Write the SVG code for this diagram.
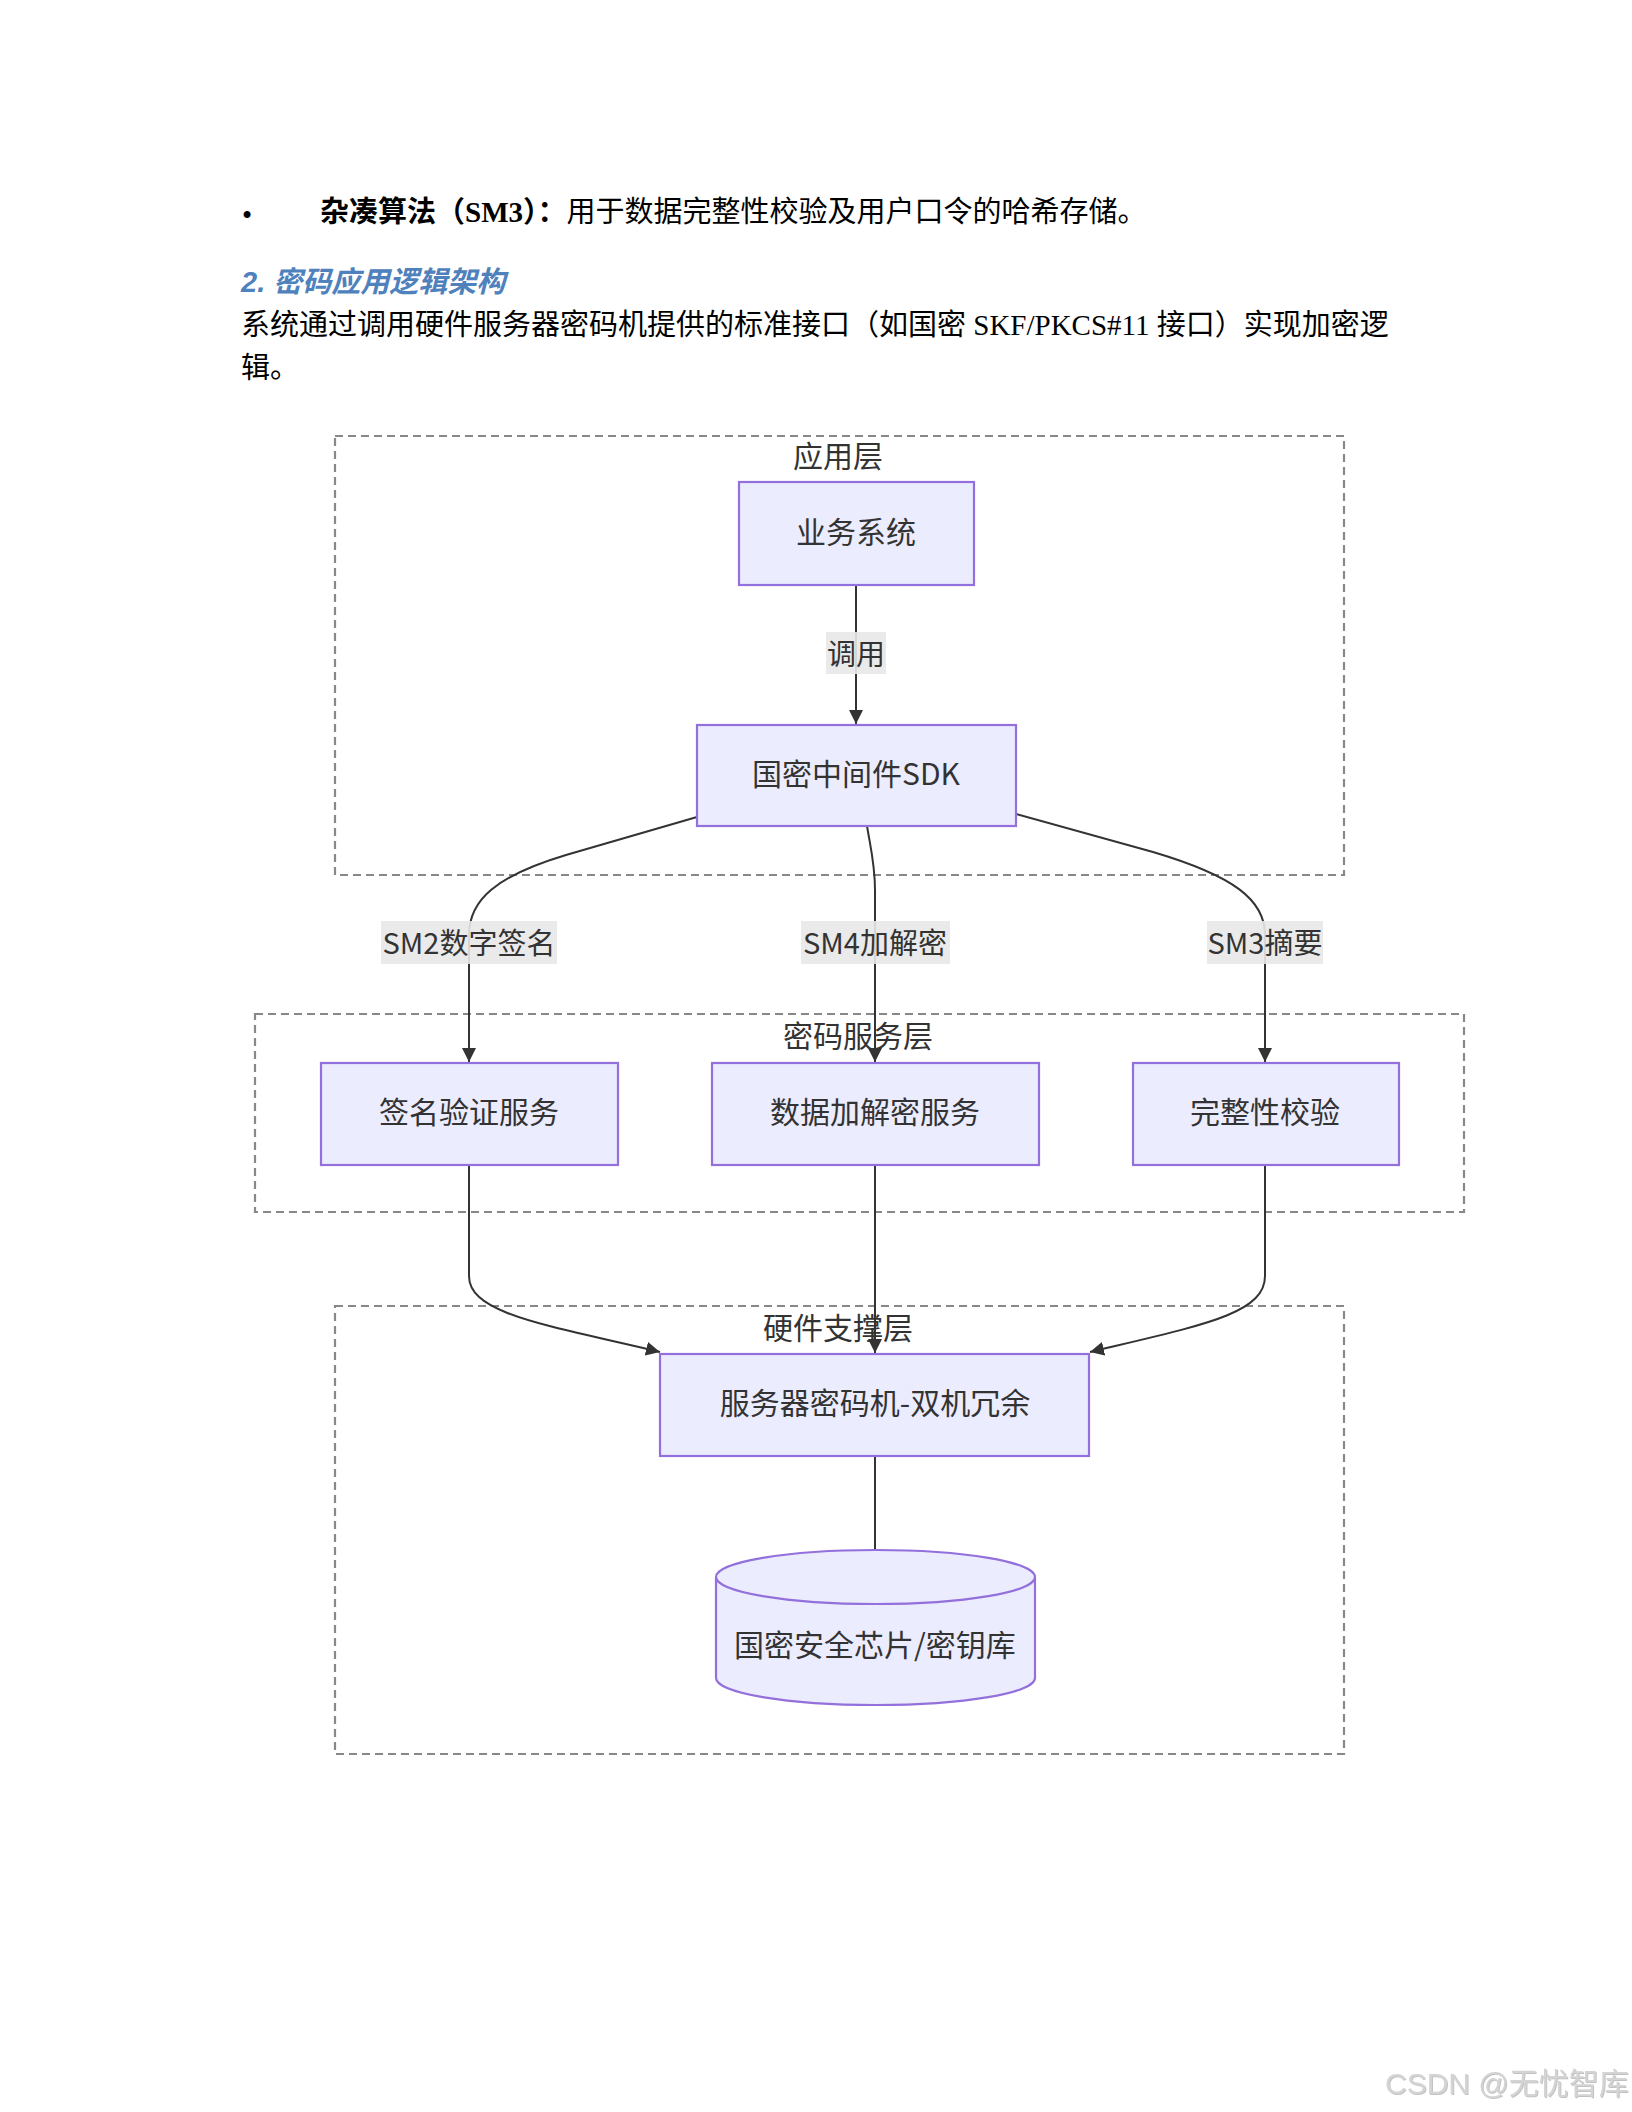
<svg xmlns="http://www.w3.org/2000/svg" width="1632" height="2112" viewBox="0 0 1632 2112">
<style>
.para{font-family:"Liberation Serif","Noto Sans CJK SC",serif;font-size:29px;fill:#000}
.head{font-family:"Liberation Sans","Noto Sans CJK SC",sans-serif;font-size:29px;font-weight:bold;font-style:italic;fill:#4F81BD}
.cluster{fill:none;stroke:#888;stroke-width:2.2;stroke-dasharray:8 5}
.clabel{font-family:"Noto Sans CJK SC","Liberation Sans",sans-serif;font-size:30px;fill:#333;text-anchor:middle;dominant-baseline:central}
.node rect,.node path{fill:#ECECFF;stroke:#9370DB;stroke-width:2.2}
.node text{font-family:"Noto Sans CJK SC","Liberation Sans",sans-serif;font-size:30px;fill:#333;text-anchor:middle;dominant-baseline:central}
.edge{fill:none;stroke:#333;stroke-width:2}
.elbg{fill:#e8e8e8;opacity:0.9}
.eltext{font-family:"Noto Sans CJK SC","Liberation Sans",sans-serif;font-size:29px;fill:#333;text-anchor:middle;dominant-baseline:central}
.wm{font-family:"Liberation Sans","Noto Sans CJK SC",sans-serif;font-size:30px;fill:#d4d4d4}
</style>
<defs>
<marker id="arrow" markerUnits="userSpaceOnUse" markerWidth="14" markerHeight="14" refX="14" refY="7" orient="auto">
<path d="M0,0 L14,7 L0,14 z" fill="#333"/>
</marker>
<filter id="emboss" x="-5%" y="-20%" width="110%" height="140%">
<feDropShadow dx="1" dy="1" stdDeviation="0.6" flood-color="#9a9a9a" flood-opacity="0.6"/>
</filter>
</defs>
<rect width="1632" height="2112" fill="#fff"/>
<g id="paragraph">
<text class="para" x="242" y="225" font-size="46">•</text>
<text class="para" x="320" y="222"><tspan font-weight="bold">杂凑算法（SM3）：</tspan>用于数据完整性校验及用户口令的哈希存储。</text>
<text class="head" x="241" y="292">2. 密码应用逻辑架构</text>
<text class="para" x="241" y="335">系统通过调用硬件服务器密码机提供的标准接口（如国密 SKF/PKCS#11 接口）实现加密逻</text>
<text class="para" x="241" y="378">辑。</text>
</g>
<g id="clusters">
<g id="cluster-app"><rect class="cluster" x="335" y="436" width="1009" height="439"/><text class="clabel" x="838" y="454">应用层</text></g>
<g id="cluster-svc"><rect class="cluster" x="255" y="1014" width="1209" height="198"/><text class="clabel" x="858" y="1034">密码服务层</text></g>
<g id="cluster-hw"><rect class="cluster" x="335" y="1306" width="1009" height="448"/><text class="clabel" x="838" y="1326">硬件支撑层</text></g>
</g>
<g id="connectors">
<path class="edge" d="M856,585 L856,724" marker-end="url(#arrow)"/>
<path class="edge" d="M697,817 L566,855 C496,876 469,900 469,935 L469,1062" marker-end="url(#arrow)"/>
<path class="edge" d="M867,826 C871,850 875,865 875,890 L875,1062" marker-end="url(#arrow)"/>
<path class="edge" d="M1016,814 L1153,852 C1234,876 1265,900 1265,935 L1265,1062" marker-end="url(#arrow)"/>
<path class="edge" d="M469,1165 L469,1276 C469,1314 546,1325 660,1352" marker-end="url(#arrow)"/>
<path class="edge" d="M875,1165 L875,1353" marker-end="url(#arrow)"/>
<path class="edge" d="M1265,1165 L1265,1276 C1265,1314 1203,1325 1090,1352" marker-end="url(#arrow)"/>
<path class="edge" d="M875,1456 L875,1550"/>
<g id="edge-labels">
<rect class="elbg" x="826" y="632" width="60" height="42"/><text class="eltext" x="856" y="652">调用</text>
<rect class="elbg" x="381" y="921" width="176" height="43"/><text class="eltext" x="469" y="941">SM2数字签名</text>
<rect class="elbg" x="801" y="921" width="149" height="43"/><text class="eltext" x="875" y="941">SM4加解密</text>
<rect class="elbg" x="1207" y="921" width="116" height="43"/><text class="eltext" x="1265" y="941">SM3摘要</text>
</g>
</g>
<g id="node-biz" class="node"><rect x="739" y="482" width="235" height="103"/><text x="856" y="530">业务系统</text></g>
<g id="node-sdk" class="node"><rect x="697" y="725" width="319" height="101"/><text x="856" y="772">国密中间件SDK</text></g>
<g id="node-sign" class="node"><rect x="321" y="1063" width="297" height="102"/><text x="469" y="1110">签名验证服务</text></g>
<g id="node-enc" class="node"><rect x="712" y="1063" width="327" height="102"/><text x="875" y="1110">数据加解密服务</text></g>
<g id="node-hash" class="node"><rect x="1133" y="1063" width="266" height="102"/><text x="1265" y="1110">完整性校验</text></g>
<g id="node-hsm" class="node"><rect x="660" y="1354" width="429" height="102"/><text x="875" y="1401">服务器密码机-双机冗余</text></g>
<g id="node-chip" class="node"><path d="M716,1577 a159.5,27 0 0,0 319,0 a159.5,27 0 0,0 -319,0 l0,101 a159.5,27 0 0,0 319,0 l0,-101"/><text x="875" y="1643">国密安全芯片/密钥库</text></g>
<text class="wm" x="1385" y="2094" filter="url(#emboss)">CSDN @无忧智库</text>
</svg>
